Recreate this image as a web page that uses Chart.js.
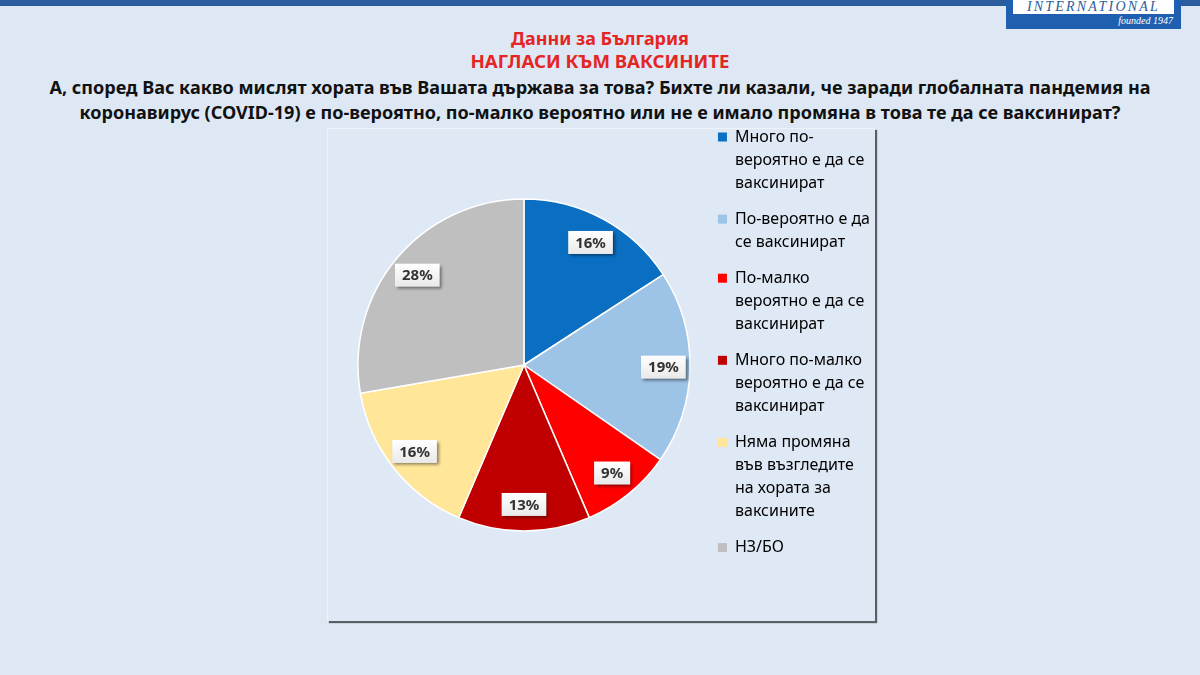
<!DOCTYPE html>
<html>
<head>
<meta charset="utf-8">
<script src="https://cdn.jsdelivr.net/npm/chart.js@4.4.1/dist/chart.umd.min.js"></script>
<style>
  body { margin: 0; width: 1200px; height: 675px; background: #dde8f4; overflow: hidden; position: relative; font-family: 'Noto Sans', sans-serif; }
  .franja { position: absolute; left: 0; top: 0; width: 1200px; height: 6px; background: #2b5d9e; }
  .logo { position: absolute; left: 1006px; top: 0; width: 175px; height: 29px; background: #1f5faf; }
  .logo .in { position: absolute; left: 7px; top: 0; width: 161px; height: 14px; background: #fff; color: #2b5d9e;
              font: italic 14px 'Liberation Serif', serif; letter-spacing: 2.2px; text-align: center; line-height: 13px; }
  .logo .f { position: absolute; right: 8px; top: 15px; color: #fff; font: italic 10px 'Liberation Serif', serif; }
  .t { position: absolute; left: 0; width: 1200px; text-align: center; font-weight: bold; white-space: nowrap; }
  .t span { display: inline-block; }
  #t1 { top: 26px; color: #e42524; font-size: 17px; }
  #t2 { top: 48px; color: #e42524; font-size: 17px; }
  #q1 { top: 75px; color: #111; font-size: 18px; }
  #q2 { top: 100px; color: #111; font-size: 18px; }
  .caja { position: absolute; left: 327px; top: 128px; width: 547px; height: 492px; background: #dfe9f5;
          border-left: 1px solid #eef3f9; border-top: 1px solid #eef3f9; box-shadow: 2px 2px 1px #5a5f66; }
  .lienzo { position: absolute; left: 327px; top: 116px; width: 553px; height: 498px; }
</style>
</head>
<body>
<div class="franja"></div>
<div class="logo"><div class="in">INTERNATIONAL</div><div class="f">founded 1947</div></div>

<div class="t" id="t1"><span data-w="178">Данни за България</span></div>
<div class="t" id="t2"><span data-w="259">НАГЛАСИ КЪМ ВАКСИНИТЕ</span></div>
<div class="t" id="q1"><span data-w="1102">А, според Вас какво мислят хората във Вашата държава за това? Бихте ли казали, че заради глобалната пандемия на</span></div>
<div class="t" id="q2"><span data-w="1042">коронавирус (COVID-19) е по-вероятно, по-малко вероятно или не е имало промяна в това те да се ваксинират?</span></div>

<div class="caja"></div>
<div class="lienzo"><canvas id="grafico"></canvas></div>

<script>
'use strict';

// Categorías (texto de leyenda, partido en líneas como en el original)
const categorias = [
  ['Много по-', 'вероятно е да се', 'ваксинират'],
  ['По-вероятно е да', 'се ваксинират'],
  ['По-малко', 'вероятно е да се', 'ваксинират'],
  ['Много по-малко', 'вероятно е да се', 'ваксинират'],
  ['Няма промяна', 'във възгледите', 'на хората за', 'ваксините'],
  ['НЗ/БО'],
];
// Porcentajes
const valores = [16, 19, 9, 13, 16, 28];
const colores = ['#0a6fc2', '#9dc3e6', '#ff0000', '#c00000', '#ffe699', '#bfbfbf'];

// Ajusta cada título al ancho medido en la imagen
document.querySelectorAll('.t span').forEach(s => {
  const objetivo = parseFloat(s.dataset.w);
  const fs = parseFloat(getComputedStyle(s).fontSize);
  s.style.fontSize = (fs * objetivo / s.getBoundingClientRect().width) + 'px';
});

// Etiquetas blancas con sombra sobre cada porción
const etiquetas = {
  id: 'etiquetas',
  afterDatasetsDraw(chart) {
    const { ctx } = chart;
    const meta = chart.getDatasetMeta(0);
    ctx.save();
    ctx.font = 'bold 15px "Noto Sans"';
    ctx.textAlign = 'center';
    ctx.textBaseline = 'middle';
    meta.data.forEach((arc, i) => {
      const p = arc.getProps(['x', 'y', 'startAngle', 'endAngle', 'outerRadius'], true);
      const a = (p.startAngle + p.endAngle) / 2;
      const r = p.outerRadius * 0.84;
      const cx = p.x + Math.cos(a) * r, cy = p.y + Math.sin(a) * r;
      const txt = valores[i] + '%';
      const w = ctx.measureText(txt).width + 14, h = 23;
      ctx.shadowColor = 'rgba(0,0,0,0.45)'; ctx.shadowBlur = 3; ctx.shadowOffsetX = 2; ctx.shadowOffsetY = 2;
      const g = ctx.createLinearGradient(0, cy - h / 2, 0, cy + h / 2);
      g.addColorStop(0, '#ffffff'); g.addColorStop(1, '#e9e9e9');
      ctx.fillStyle = g;
      ctx.fillRect(cx - w / 2, cy - h / 2, w, h);
      ctx.shadowColor = 'transparent';
      ctx.fillStyle = '#333';
      ctx.fillText(txt, cx, cy + 1);
    });
    ctx.restore();
  },
};

new Chart(document.getElementById('grafico'), {
  type: 'pie',
  data: {
    labels: categorias,
    datasets: [{
      data: valores,
      backgroundColor: colores,
      borderColor: '#ffffff',
      borderWidth: 1.5,
    }],
  },
  options: {
    responsive: true, maintainAspectRatio: false, animation: false,
    radius: 166,
    layout: { padding: { left: 16 } },
    plugins: {
      tooltip: { enabled: false },
      legend: {
        position: 'right', align: 'start',
        labels: {
          font: { family: 'Noto Sans', size: 16, lineHeight: 1.44 },
          color: '#868686', boxWidth: 9, boxHeight: 9, padding: 13,
          generateLabels: chart => chart.data.labels.map((lab, i) => ({
            text: lab, fillStyle: colores[i], strokeStyle: colores[i], lineWidth: 0, index: i,
          })),
        },
      },
    },
  },
  plugins: [etiquetas],
});
</script>
</body>
</html>
